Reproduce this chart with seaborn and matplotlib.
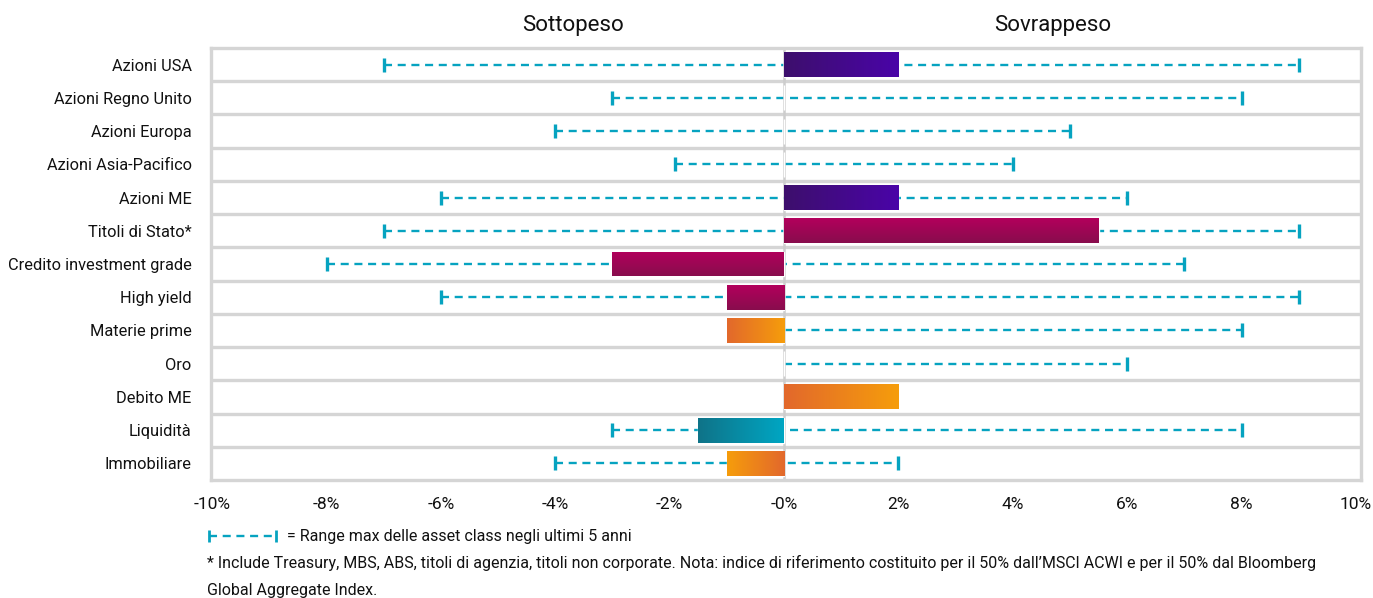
import numpy as np
import pandas as pd
import matplotlib
matplotlib.use("Agg")
import matplotlib.pyplot as plt
from matplotlib.colors import LinearSegmentedColormap
from matplotlib.lines import Line2D
import seaborn as sns

categories = ["Azioni USA", "Azioni Regno Unito", "Azioni Europa", "Azioni Asia-Pacifico",
              "Azioni ME", "Titoli di Stato*", "Credito investment grade", "High yield",
              "Materie prime", "Oro", "Debito ME", "Liquidità", "Immobiliare"]
positions = [2, 0, 0, 0, 2, 5.5, -3, -1, -1, 0, 2, -1.5, -1]
range_min = [-7, -3, -4, -1.9, -6, -7, -8, -6, 0, 0, None, -3, -4]
range_max = [9, 8, 5, 4, 6, 9, 7, 9, 8, 6, None, 8, 2]
xticks = [-10, -8, -6, -4, -2, 0, 2, 4, 6, 8, 10]
xtick_labels = ["-10%", "-8%", "-6%", "-4%", "-2%", "-0%", "2%", "4%", "6%", "8%", "10%"]
group = ["purple", "none", "none", "none", "purple", "magenta", "magenta", "magenta",
         "orange", "none", "orange", "teal", "orange_rev"]

gradients = {
    "purple": (["#3d0f6c", "#4a04a8"], "h"),
    "magenta": (["#b3005c", "#880d4d"], "v"),
    "orange": (["#e2682c", "#f69d0b"], "h"),
    "orange_rev": (["#f69d0b", "#e2682c"], "h"),
    "teal": (["#0f7388", "#00a6c3"], "h"),
    "none": (["#ffffff", "#ffffff"], "h"),
}
range_color = "#06a3c0"
grid_color = "#d5d5d5"
text_color = "#111111"

sns.set_theme(style="white")
plt.rcParams["font.family"] = ["Roboto", "DejaVu Sans"]
plt.rcParams["text.color"] = text_color
plt.rcParams["xtick.color"] = text_color
plt.rcParams["ytick.color"] = text_color

df = pd.DataFrame({"cat": categories, "pos": positions, "grp": group})
palette = {c: gradients[g][0][0] for c, g in zip(categories, group)}

fig = plt.figure(figsize=(13.73, 5.98), dpi=100)
ax = fig.add_axes([0.1537, 0.1973, 0.8376, 0.7224])

# range lines (behind bars)
for i, (lo, hi) in enumerate(zip(range_min, range_max)):
    if lo is None:
        continue
    ax.plot([lo, hi], [i, i], color=range_color, lw=1.7, ls=(0, (3.4, 2.4)), zorder=1)
    for v in (lo, hi):
        if v != 0:
            ax.plot([v], [i], marker="|", color=range_color, markersize=10, mew=2.4, zorder=1)

sns.barplot(data=df, x="pos", y="cat", hue="cat", palette=palette, orient="h",
            width=0.75, legend=False, ax=ax, zorder=3, saturation=1)

for patch, g in zip(ax.patches, group):
    w = patch.get_width()
    if abs(w) < 1e-9:
        continue
    cols, direction = gradients[g]
    cmap = LinearSegmentedColormap.from_list("g", cols)
    x0 = patch.get_x()
    x1 = x0 + w
    y0 = patch.get_y()
    y1 = y0 + patch.get_height()
    if direction == "h":
        img = np.linspace(0, 1, 256).reshape(1, -1)
    else:
        img = np.linspace(0, 1, 256).reshape(-1, 1)
    xl, xr = min(x0, x1), max(x0, x1)
    im = ax.imshow(img, cmap=cmap, aspect="auto", extent=(xl, xr, max(y0, y1), min(y0, y1)),
                   origin="upper", zorder=4, interpolation="bilinear")
    im.set_clip_path(patch)

# row separators
for i in range(len(categories) - 1):
    ax.axhline(i + 0.5, color=grid_color, lw=2.4, zorder=0.5)
ax.axvline(0, color="#cdcdcd", lw=1.8, zorder=2)

ax.set_xlim(-10.02, 10.09)
ax.set_ylim(len(categories) - 0.5, -0.5)
ax.set_xticks(xticks)
ax.set_xticklabels(xtick_labels, fontsize=12.5)
ax.tick_params(axis="y", labelsize=11.8, pad=14, length=0)
ax.tick_params(axis="x", pad=12, length=0)
ax.set_xlabel("")
ax.set_ylabel("")
for s in ax.spines.values():
    s.set_color(grid_color)
    s.set_linewidth(2.4)

fig.text(573 / 1373, 1 - 25 / 598, "Sottopeso", ha="center", va="center", fontsize=16)
fig.text(1053 / 1373, 1 - 25 / 598, "Sovrappeso", ha="center", va="center", fontsize=16)

# legend
ly = 1 - 536 / 598
fig.add_artist(Line2D([209 / 1373, 276 / 1373], [ly, ly], color=range_color, lw=1.7,
                      ls=(0, (3.4, 2.4))))
for lx in (209 / 1373, 276 / 1373):
    fig.add_artist(Line2D([lx], [ly], marker="|", color=range_color, markersize=9, mew=2))
fig.text(287 / 1373, ly, "= Range max delle asset class negli ultimi 5 anni",
         ha="left", va="center", fontsize=11.5)
fig.text(207 / 1373, 1 - 563 / 598,
         "* Include Treasury, MBS, ABS, titoli di agenzia, titoli non corporate. Nota: indice di riferimento costituito per il 50% dall\u2019MSCI ACWI e per il 50% dal Bloomberg",
         ha="left", va="center", fontsize=11.5)
fig.text(207 / 1373, 1 - 590 / 598, "Global Aggregate Index.",
         ha="left", va="center", fontsize=11.5)

fig.savefig("out.png", dpi=100)
